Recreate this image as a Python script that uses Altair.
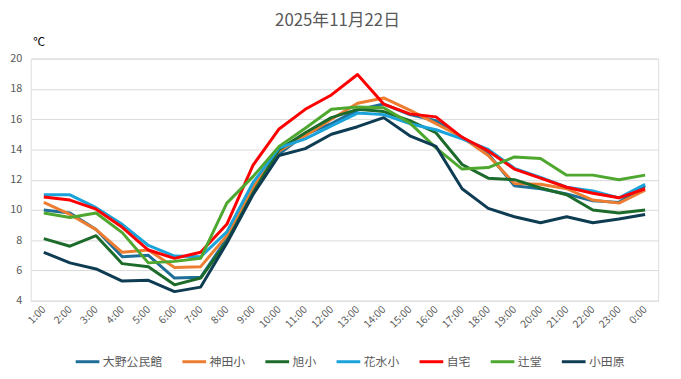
import altair as alt
import pandas as pd

hours = ["1:00", "2:00", "3:00", "4:00", "5:00", "6:00", "7:00", "8:00", "9:00", "10:00",
         "11:00", "12:00", "13:00", "14:00", "15:00", "16:00", "17:00", "18:00", "19:00",
         "20:00", "21:00", "22:00", "23:00", "0:00"]

series_names = ["大野公民館", "神田小", "旭小", "花水小", "自宅", "辻堂", "小田原"]
series_colors = ["#1F6E97", "#ED7D31", "#1C6B2A", "#1AA3DB", "#FF0000", "#4EA72E", "#0E3C52"]

oono = [10.0, 9.8, 8.7, 6.9, 7.0, 5.5, 5.55, 8.1, 11.3, 13.7, 15.0, 15.7, 16.6, 17.0, 16.3, 15.9,
        14.8, 13.7, 11.6, 11.4, 11.05, 10.6, 10.5, 11.6]
kanda = [10.5, 9.7, 8.7, 7.2, 7.35, 6.2, 6.25, 8.3, 11.5, 13.9, 14.9, 16.0, 17.05, 17.4, 16.6, 15.7,
         14.8, 13.6, 11.75, 11.7, 11.4, 10.65, 10.45, 11.3]
asahi = [8.1, 7.6, 8.3, 6.45, 6.25, 5.05, 5.5, 7.9, 11.1, 14.0, 15.1, 16.1, 16.65, 16.5, 15.9, 15.1,
         13.0, 12.1, 12.0, 11.45, 11.0, 10.0, 9.8, 10.0]
hanamizu = [11.0, 11.0, 10.15, 9.05, 7.65, 6.95, 6.9, 8.55, 11.8, 14.1, 14.7, 15.55, 16.4, 16.3, 15.7, 15.3,
            14.7, 14.0, 12.75, 12.15, 11.5, 11.25, 10.8, 11.7]
jitaku = [10.85, 10.65, 10.05, 8.85, 7.35, 6.8, 7.2, 9.05, 12.95, 15.35, 16.65, 17.6, 18.95, 17.0, 16.35, 16.15,
          14.8, 13.9, 12.7, 12.1, 11.5, 11.1, 10.8, 11.4]
tsujido = [9.8, 9.5, 9.8, 8.5, 6.5, 6.6, 6.8, 10.45, 12.2, 14.2, 15.4, 16.65, 16.8, 16.75, 15.75, 14.1,
           12.7, 12.8, 13.5, 13.4, 12.3, 12.3, 12.0, 12.3]
odawara = [7.2, 6.5, 6.1, 5.3, 5.35, 4.6, 4.9, 7.8, 11.0, 13.6, 14.05, 15.0, 15.5, 16.1, 14.9, 14.2,
           11.4, 10.1, 9.55, 9.15, 9.55, 9.15, 9.4, 9.7]

all_series = [oono, kanda, asahi, hanamizu, jitaku, tsujido, odawara]

rows = []
for name, vals in zip(series_names, all_series):
    for i, (h, v) in enumerate(zip(hours, vals)):
        rows.append({"time": h, "site": name, "temp": v, "time_idx": i})
df = pd.DataFrame(rows)

FONT = "Noto Sans CJK JP"

chart = alt.Chart(df).mark_line(strokeWidth=3, strokeJoin="round").encode(
    x=alt.X("time:N", sort=hours,
            scale=alt.Scale(type="point", padding=0.5),
            axis=alt.Axis(title=None, labelAngle=-45, labelAlign="right", labelBaseline="middle",
                          labelPadding=7, ticks=False, domain=False, grid=False,
                          labelFontSize=10.5, labelColor="#595959", labelFont=FONT)),
    y=alt.Y("temp:Q", scale=alt.Scale(domain=[4, 20], nice=False, zero=False),
            axis=alt.Axis(values=[4, 6, 8, 10, 12, 14, 16, 18, 20], ticks=False, domain=False,
                          gridColor="#D9D9D9", gridWidth=1, labelPadding=9,
                          labelFontSize=11, labelColor="#595959", labelFont=FONT,
                          title="℃", titleAngle=0, titleX=2, titleY=-17, titleAlign="left",
                          titleBaseline="middle", titleFontSize=12, titleFontWeight="normal",
                          titleColor="#000000", titleFont=FONT)),
    color=alt.Color("site:N", sort=series_names,
                    scale=alt.Scale(domain=series_names, range=series_colors),
                    legend=alt.Legend(title=None, orient="none", legendX=44, legendY=293,
                                      direction="horizontal", symbolType="stroke",
                                      symbolSize=576, symbolStrokeWidth=3, labelFontSize=12,
                                      labelColor="#595959", labelFont=FONT, labelOffset=2,
                                      columnPadding=13)),
    order=alt.Order("time_idx:Q"),
).properties(
    width=635, height=245,
    title=alt.TitleParams("2025年11月22日", fontSize=17, fontWeight="normal", color="#595959",
                          font=FONT, anchor="middle", dx=-7, offset=6),
    autosize=alt.AutoSizeParams(type="none"),
    padding={"left": 23, "top": 49, "right": 15, "bottom": 77},
).configure_view(stroke=None).configure(background="white")

chart.save("out.html", embed_options={"renderer": "svg", "actions": False})
